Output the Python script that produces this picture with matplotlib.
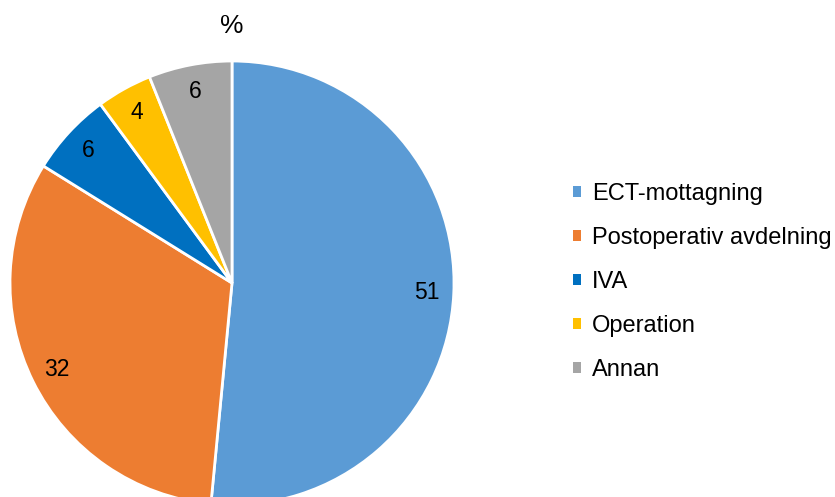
import matplotlib
matplotlib.use("Agg")
import matplotlib.pyplot as plt

plt.rcParams['font.family'] = ['Liberation Sans', 'DejaVu Sans']

# share of cases per location (%)
locations = ['ECT-mottagning', 'Postoperativ avdelning', 'IVA', 'Operation', 'Annan']
shares = [51, 32, 6, 4, 6]
colors = ['#5B9BD5', '#ED7D31', '#0070C0', '#FFC000', '#A5A5A5']

fig = plt.figure(figsize=(8.35, 4.97), dpi=100)
ax = fig.add_axes([10/835, -8/497, 444/835, 444/497])

wedges, texts = ax.pie(shares, colors=colors, labels=[str(s) for s in shares],
                       startangle=90, counterclock=False, labeldistance=0.88,
                       radius=1.0,
                       wedgeprops=dict(edgecolor='white', linewidth=2),
                       textprops=dict(fontsize=16.5, color='black'))
for t in texts:
    t.set_ha('center')
    t.set_va('center')
ax.set_xlim(-1, 1)
ax.set_ylim(-1, 1)
ax.set_aspect('equal')

fig.text(232/835, 1 - 26/497, '%', ha='center', va='center', fontsize=19)

leg = fig.legend(wedges, locations, loc='center left',
                 bbox_to_anchor=(566/835, 1 - 282/497), frameon=False,
                 fontsize=17, handlelength=0.35, handleheight=0.35,
                 handletextpad=0.45, labelspacing=0.93,
                 borderaxespad=0, borderpad=0.3)
for h in leg.legend_handles:
    h.set_linewidth(0)

fig.savefig('out.png', dpi=100)
